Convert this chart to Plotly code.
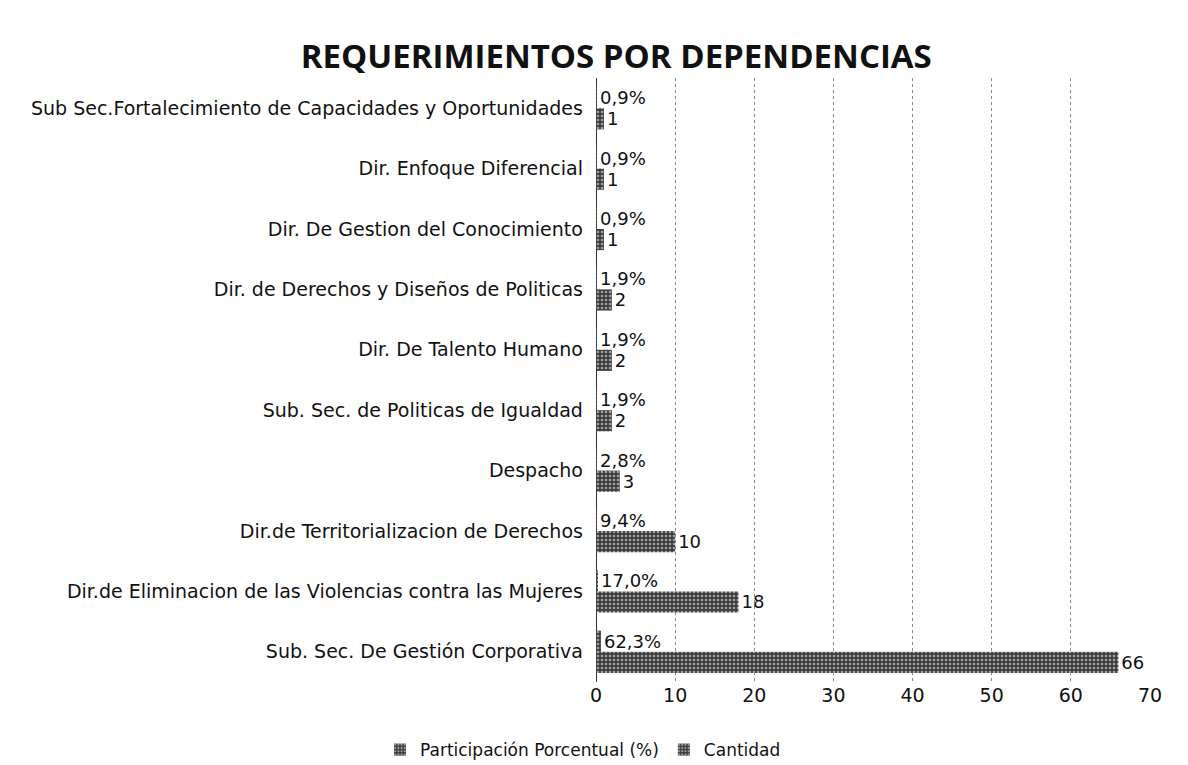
import plotly.graph_objects as go

categorias = [
    "Sub. Sec. De Gestión Corporativa",
    "Dir.de Eliminacion de las Violencias contra las Mujeres",
    "Dir.de Territorializacion de Derechos",
    "Despacho",
    "Sub. Sec. de Politicas de Igualdad",
    "Dir. De Talento Humano",
    "Dir. de Derechos y Diseños de Politicas",
    "Dir. De Gestion del Conocimiento",
    "Dir. Enfoque Diferencial",
    "Sub Sec.Fortalecimiento de Capacidades y Oportunidades",
]
cantidad = [66, 18, 10, 3, 2, 2, 2, 1, 1, 1]
participacion = [0.623, 0.170, 0.094, 0.028, 0.019, 0.019, 0.019, 0.009, 0.009, 0.009]

font_fam = "DejaVu Sans"
pattern = dict(shape=".", fgcolor="#a0a0a0", bgcolor="#3c3c3c", size=4, solidity=0.35, fillmode="replace")

W, H = 1188, 765
L, R, T, B = 588, 46, 70, 91

fig = go.Figure()
fig.add_trace(go.Bar(
    y=categorias, x=cantidad, orientation="h", name="Cantidad",
    marker=dict(color="#3c3c3c", pattern=pattern, line=dict(width=0)),
    texttemplate="%{x}", textposition="outside",
    textfont=dict(family=font_fam, size=18, color="#111"), cliponaxis=False,
    legendrank=2,
))
fig.add_trace(go.Bar(
    y=categorias, x=participacion, orientation="h", name="Participación Porcentual (%)",
    marker=dict(color="#3c3c3c", pattern=pattern, line=dict(width=0)),
    texttemplate="%{x:.1%}", textposition="outside",
    textfont=dict(family=font_fam, size=18, color="#111"), cliponaxis=False,
    legendrank=1,
))

fig.update_layout(
    width=W, height=H,
    paper_bgcolor="white", plot_bgcolor="white",
    separators=",.",
    barmode="group", bargap=0.3, bargroupgap=0,
    margin=dict(l=L, r=R, t=T, b=B),
    title=dict(text="<b>REQUERIMIENTOS POR DEPENDENCIAS</b>", x=0.512, xref="container", xanchor="center",
               y=0.937, yref="container", yanchor="middle",
               font=dict(family="Open Sans", size=33, color="#111")),
    font=dict(family=font_fam, size=18, color="#111"),
    showlegend=True,
    legend=dict(orientation="h", x=0.484, xref="container", xanchor="center",
                y=0.03, yref="container", yanchor="middle",
                font=dict(family=font_fam, size=17, color="#111"), itemwidth=30),
    xaxis=dict(range=[0, 70], dtick=10, tick0=0, showgrid=True, gridcolor="#888", griddash="dot",
               gridwidth=1, zeroline=True, zerolinecolor="#333", zerolinewidth=1,
               tickfont=dict(family=font_fam, size=19), ticks="", showline=False),
    yaxis=dict(type="category", showgrid=False, ticks="", ticksuffix="  ",
               tickfont=dict(family=font_fam, size=19), showline=False),
)

fig.write_html("out.html")
